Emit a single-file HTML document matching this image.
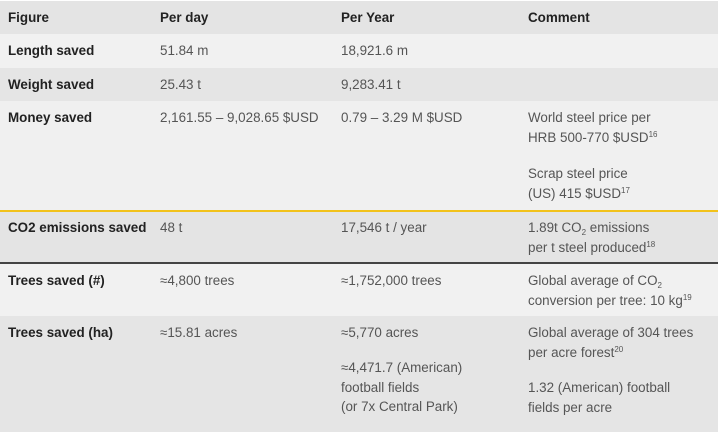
<!DOCTYPE html>
<html><head><style>
body{margin:0;width:718px;height:432px;overflow:hidden;background:#fff;font-family:"Liberation Sans",sans-serif;font-size:13.4px;color:#555;}
.r{position:absolute;left:0;width:718px;}
.t{position:absolute;line-height:19.5px;white-space:nowrap;}
.b{font-weight:bold;color:#222;}
sub{font-size:8px;vertical-align:-3px;line-height:0}
sup{font-size:8px;vertical-align:5px;line-height:0}
</style></head><body>
<div class="r" style="top:1px;height:33px;background:#e4e4e4"></div>
<div class="r" style="top:34px;height:34px;background:#f1f1f1"></div>
<div class="r" style="top:68px;height:33px;background:#e5e5e5"></div>
<div class="r" style="top:101px;height:109px;background:#f0f0f0"></div>
<div class="r" style="top:210px;height:2px;background:#f2c21b"></div>
<div class="r" style="top:212px;height:50px;background:#e4e4e4"></div>
<div class="r" style="top:262px;height:2px;background:#444"></div>
<div class="r" style="top:264px;height:52px;background:#f1f1f1"></div>
<div class="r" style="top:316px;height:116px;background:#e5e5e5"></div>

<div class="t b" style="left:8px;top:8px">Figure</div>
<div class="t b" style="left:160px;top:8px">Per day</div>
<div class="t b" style="left:341px;top:8px">Per Year</div>
<div class="t b" style="left:528px;top:8px">Comment</div>

<div class="t b" style="left:8px;top:41px">Length saved</div>
<div class="t" style="left:160px;top:41px">51.84 m</div>
<div class="t" style="left:341px;top:41px">18,921.6 m</div>

<div class="t b" style="left:8px;top:75px">Weight saved</div>
<div class="t" style="left:160px;top:75px">25.43 t</div>
<div class="t" style="left:341px;top:75px">9,283.41 t</div>

<div class="t b" style="left:8px;top:108px">Money saved</div>
<div class="t" style="left:160px;top:108px">2,161.55 – 9,028.65 $USD</div>
<div class="t" style="left:341px;top:108px">0.79 – 3.29 M $USD</div>
<div class="t" style="left:528px;top:108px">World steel price per<br>HRB 500-770 $USD<sup>16</sup></div>
<div class="t" style="left:528px;top:164px">Scrap steel price<br>(US) 415 $USD<sup>17</sup></div>

<div class="t b" style="left:8px;top:218px">CO2 emissions saved</div>
<div class="t" style="left:160px;top:218px">48 t</div>
<div class="t" style="left:341px;top:218px">17,546 t / year</div>
<div class="t" style="left:528px;top:218px">1.89t CO<sub>2</sub> emissions<br>per t steel produced<sup>18</sup></div>

<div class="t b" style="left:8px;top:271px">Trees saved (#)</div>
<div class="t" style="left:160px;top:271px">≈4,800 trees</div>
<div class="t" style="left:341px;top:271px">≈1,752,000 trees</div>
<div class="t" style="left:528px;top:271px">Global average of CO<sub>2</sub><br>conversion per tree: 10 kg<sup>19</sup></div>

<div class="t b" style="left:8px;top:323px">Trees saved (ha)</div>
<div class="t" style="left:160px;top:323px">≈15.81 acres</div>
<div class="t" style="left:341px;top:323px">≈5,770 acres</div>
<div class="t" style="left:341px;top:358px">≈4,471.7 (American)<br>football fields<br>(or 7x Central Park)</div>
<div class="t" style="left:528px;top:323px">Global average of 304 trees<br>per acre forest<sup>20</sup></div>
<div class="t" style="left:528px;top:378px">1.32 (American) football<br>fields per acre</div>
</body></html>
